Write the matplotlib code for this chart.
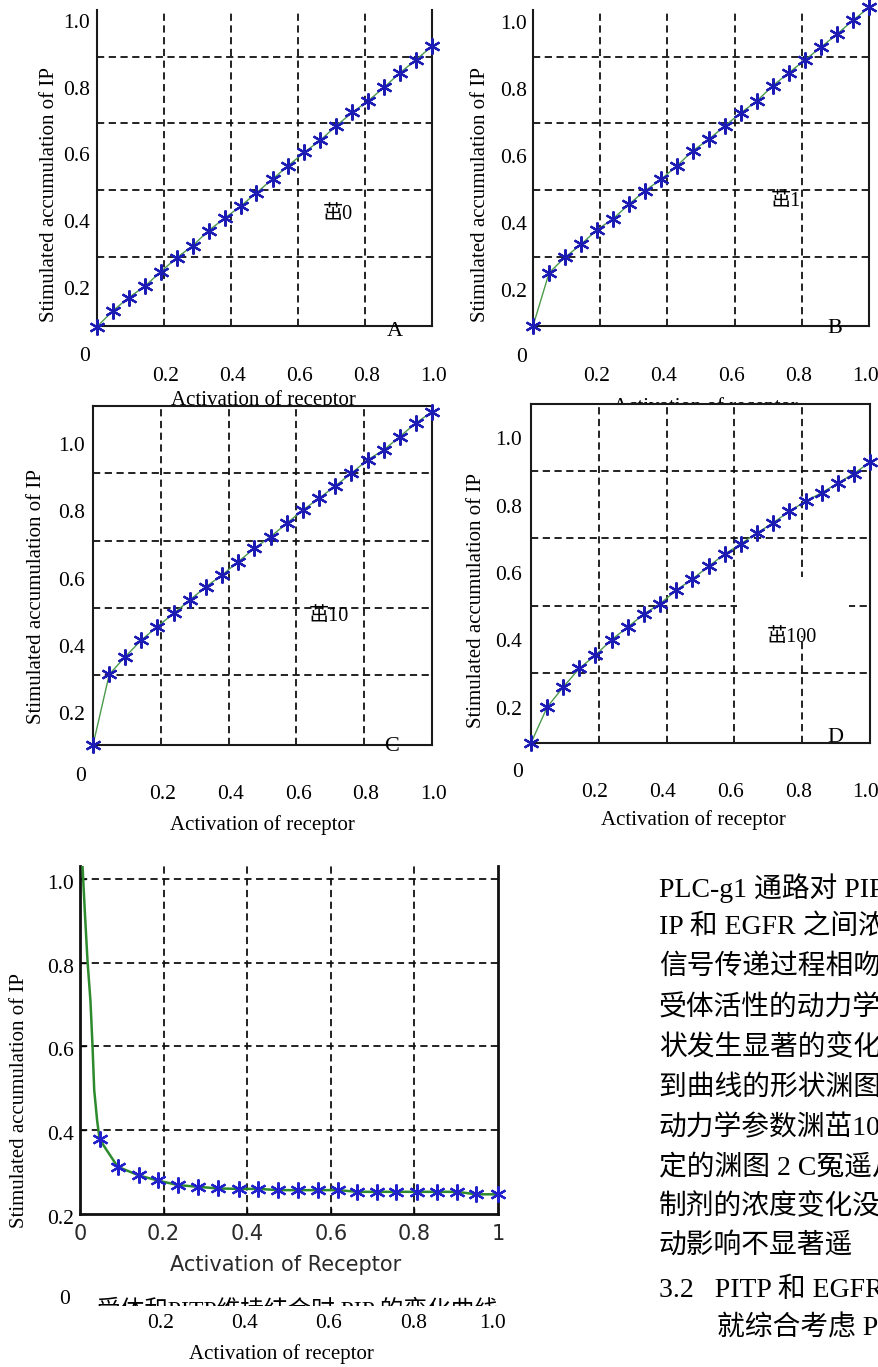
import matplotlib as mpl
mpl.use("Agg")
import matplotlib.pyplot as plt
from matplotlib.patches import Rectangle

SERIF = ["Liberation Serif", "Noto Sans CJK SC"]
mpl.rcParams.update({"font.family": SERIF, "axes.linewidth": 1.5,
                     "savefig.facecolor": "white", "figure.facecolor": "white"})

W, H = 879, 1367

# ---- values ----
ACT = [0.0, 0.048, 0.095, 0.143, 0.19, 0.238, 0.286, 0.333, 0.381, 0.429, 0.476,
       0.524, 0.571, 0.619, 0.667, 0.714, 0.762, 0.81, 0.857, 0.905, 0.952, 1.0]
IP_A = [0.093, 0.141, 0.18, 0.214, 0.257, 0.299, 0.335, 0.38, 0.417, 0.453, 0.493,
        0.534, 0.574, 0.614, 0.65, 0.693, 0.733, 0.768, 0.808, 0.852, 0.89, 0.931]
IP_B = [0.095, 0.254, 0.30, 0.339, 0.382, 0.415, 0.459, 0.499, 0.533, 0.574, 0.619,
        0.653, 0.693, 0.732, 0.768, 0.813, 0.852, 0.89, 0.928, 0.967, 1.008, 1.047]
IP_C = [0.093, 0.303, 0.355, 0.405, 0.445, 0.484, 0.524, 0.563, 0.598, 0.638, 0.677,
        0.712, 0.751, 0.791, 0.826, 0.862, 0.9, 0.94, 0.969, 1.009, 1.049, 1.083]
IP_D = [0.092, 0.199, 0.258, 0.314, 0.353, 0.399, 0.437, 0.475, 0.506, 0.546, 0.579,
        0.617, 0.653, 0.684, 0.716, 0.746, 0.78, 0.81, 0.835, 0.864, 0.892, 0.926]

ACT_E = [0.047, 0.09, 0.141, 0.186, 0.235, 0.282, 0.331, 0.38, 0.427, 0.474, 0.521,
         0.569, 0.617, 0.663, 0.711, 0.757, 0.806, 0.854, 0.902, 0.948, 1.0]
IP_E = [0.378, 0.313, 0.292, 0.28, 0.269, 0.265, 0.261, 0.26, 0.26, 0.257, 0.257,
        0.257, 0.257, 0.253, 0.253, 0.253, 0.253, 0.253, 0.253, 0.247, 0.247]
STEEP_X = [0.002, 0.006, 0.012, 0.018, 0.025, 0.03, 0.034, 0.041]
STEEP_Y = [1.12, 1.031, 0.913, 0.804, 0.709, 0.6, 0.496, 0.423]

MU = ["茁0", "茁1", "茁10", "茁100"]
LETTERS = ["A", "B", "C", "D"]
TICKS = [0.2, 0.4, 0.6, 0.8, 1.0]
TICK_TXT = ["0.2", "0.4", "0.6", "0.8", "1.0"]
GRID_X = [0.2, 0.4, 0.6, 0.8]
GRID_Y = [0.3, 0.5, 0.7, 0.9]
E_GRID_Y = [0.4, 0.6, 0.8, 1.0]
E_XT = [0, 0.2, 0.4, 0.6, 0.8, 1.0]
E_XT_TXT = ["0", "0.2", "0.4", "0.6", "0.8", "1"]

BODY = ["PLC-g1 通路对 PIP2", "IP 和 EGFR 之间浓度", "信号传递过程相吻合",
        "受体活性的动力学参数", "状发生显著的变化", "到曲线的形状渊图 2",
        "动力学参数渊茁100", "定的渊图 2 C冤遥从", "制剂的浓度变化没有",
        "动影响不显著遥", "3.2   PITP 和 EGFR", "就综合考虑 PIP"]
CAPTION = "受体和PITP维持结合时 PIP 的变化曲线"

# panel layout: axes box in pixels (l, t, r, b), y-range, label offsets
LAYOUT = [
    dict(box=(97, 10, 432, 326), ylim=(0.095, 1.039), top=False, ylx=-0.02, ydy=0.0,
         zero=(-0.036, 0.003), xly=-0.055, xdx=0.005, xlab=(0.496, -0.127),
         ylab=(50, 194), mu=(0.72, 0.427), let=(0.89, 0.078)),
    dict(box=(533, 10, 869, 326), ylim=(0.095, 1.039), top=False, ylx=-0.018, ydy=-0.005,
         zero=(-0.033, 0.0), xly=-0.055, xdx=-0.01, xlab=(0.512, -0.147),
         ylab=(481, 195), mu=(0.754, 0.466), let=(0.898, 0.088)),
    dict(box=(93, 406, 432, 745), ylim=(0.093, 1.1), top=True, ylx=-0.024, ydy=-0.02,
         zero=(-0.038, -0.001), xly=-0.055, xdx=0.005, xlab=(0.499, -0.145),
         ylab=(37, 596), mu=(0.695, 0.474), let=(0.882, 0.088)),
    dict(box=(531, 404, 870, 743), ylim=(0.092, 1.099), top=True, ylx=-0.027, ydy=-0.01,
         zero=(-0.041, 0.004), xly=-0.055, xdx=-0.012, xlab=(0.478, -0.136),
         ylab=(477, 600), mu=(0.769, 0.404), let=(0.897, 0.107)),
]

GRID_KW = dict(color="#111111", lw=1.3, ls=(0, (4, 2.5)), zorder=1)
LINE_C = "#4b9b4b"
STAR_C = "#1c1cb4"


def fbox(l, t, r, b):
    return [l / W, 1 - b / H, (r - l) / W, (b - t) / H]


fig = plt.figure(figsize=(W / 100, H / 100), dpi=100)


def ftext(x, y, s, **kw):
    return fig.text(x / W, 1 - y / H, s, **kw)


for ys, mu, let, L in zip([IP_A, IP_B, IP_C, IP_D], MU, LETTERS, LAYOUT):
    ax = fig.add_axes(fbox(*L["box"]))
    ax.set_xlim(0, 1); ax.set_ylim(*L["ylim"])
    ax.set_xticks([]); ax.set_yticks([])
    for s in ax.spines.values():
        s.set_color("#1a1a1a")
    if not L["top"]:
        ax.spines["top"].set_visible(False)
    for g in GRID_Y:
        ax.axhline(g, **GRID_KW)
    for g in GRID_X:
        ax.axvline(g, **GRID_KW)
    if let == "D":
        # scan artefact: label area whited out over the grid
        ax.add_patch(Rectangle((0.607, 0.41), 0.33, 0.176, facecolor="white",
                               edgecolor="none", zorder=1.5))
    ax.plot(ACT, ys, color=LINE_C, lw=1.0, zorder=3, clip_on=False)
    ax.plot(ACT, ys, ls="none", marker=(6, 2, 0), ms=11.5, mew=1.6, mec=STAR_C,
            zorder=4, clip_on=False)
    for v, s in zip(TICKS, TICK_TXT):
        ax.text(L["ylx"], v + L["ydy"], s, ha="right", va="center", fontsize=15.5)
        ax.text(v + L["xdx"], L["xly"], s, ha="center", va="center", fontsize=15.5)
    ax.text(*L["zero"], "0", ha="center", va="center", fontsize=15.5)
    ax.text(*L["xlab"], "Activation of receptor", ha="center", va="center", fontsize=15)
    ax.text(*L["mu"], mu, ha="center", va="center", fontsize=14.5, zorder=5)
    ax.text(*L["let"], let, ha="center", va="center", fontsize=16, zorder=5)
    ftext(*L["ylab"], "Stimulated accumulation of IP", rotation=90,
          ha="center", va="center", fontsize=15)

# ---- bottom panel (receptor kept bound to PITP) ----
axE = fig.add_axes(fbox(80, 866, 498, 1214))
axE.set_xlim(0, 1); axE.set_ylim(0.2, 1.031)
axE.spines["top"].set_visible(False)
for s in axE.spines.values():
    s.set_color("#111111"); s.set_linewidth(2)
for g in E_GRID_Y:
    axE.axhline(g, **GRID_KW)
for g in GRID_X:
    axE.axvline(g, **GRID_KW)
axE.plot(STEEP_X + ACT_E, STEEP_Y + IP_E, color="#2d8a2d", lw=1.8, zorder=3)
axE.plot(ACT_E, IP_E, ls="none", marker=(6, 2, 0), ms=11.5, mew=1.6, mec="#2222cc",
         zorder=4, clip_on=False)
axE.set_xticks(E_XT)
axE.set_xticklabels(E_XT_TXT, fontfamily="DejaVu Sans", fontsize=15, color="#2a2a2a")
axE.set_yticks(E_GRID_Y + [0.2])
axE.set_yticklabels([])
axE.tick_params(direction="in", length=4, width=1, pad=7)
for v, s in zip(TICKS, TICK_TXT):
    axE.text(-0.015, v - 0.013, s, ha="right", va="center", fontsize=15.5)
ftext(286, 1265, "Activation of Receptor", ha="center", va="center",
      fontfamily="DejaVu Sans", fontsize=15, color="#2a2a2a")
ftext(20, 1100, "Stimulated accumulation of IP", rotation=90,
      ha="center", va="center", fontsize=15)

# cut caption line, lower half lost in the scan
ftext(97, 1311, CAPTION, ha="left", va="center", fontsize=17, zorder=1)
fig.add_artist(Rectangle((90 / W, 1 - 1326 / H), 440 / W, 20 / H,
                         transform=fig.transFigure, facecolor="white",
                         edgecolor="none", zorder=2))
ftext(65, 1300, "0", ha="center", va="center", fontsize=15.5, zorder=3)
for x, s in zip([161, 245, 329, 414, 493], TICK_TXT):
    ftext(x, 1323, s, ha="center", va="center", fontsize=15.5, zorder=3)
ftext(281, 1354, "Activation of receptor", ha="center", va="center", fontsize=15, zorder=3)

# ---- body text on the right ----
for i, (y, line) in enumerate(zip([888, 927, 967, 1008, 1048, 1088, 1128, 1167,
                                   1207, 1246, 1290, 1328], BODY)):
    ftext(717 if i == len(BODY) - 1 else 659, y, line, ha="left", va="center",
          fontsize=20)

fig.savefig("out.png", dpi=100)
